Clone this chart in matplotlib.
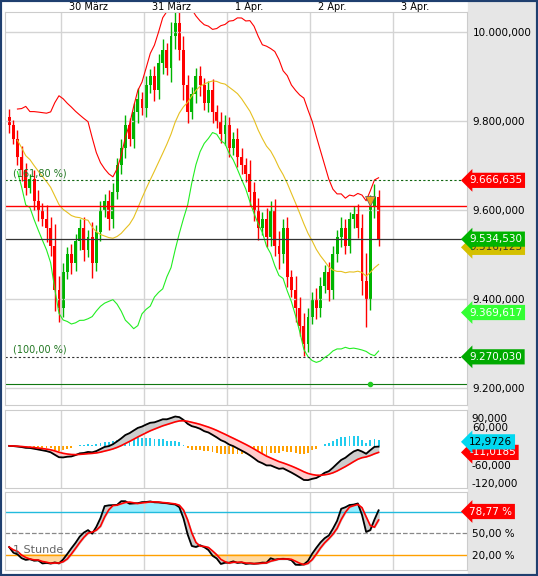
import matplotlib
matplotlib.use("Agg")
import matplotlib.pyplot as plt
import numpy as np
import pandas as pd
from matplotlib.patches import Rectangle

closes = [9790,9760,9720,9690,9650,9670,9620,9600,9580,9560,
          9520,9420,9380,9460,9500,9480,9530,9560,9510,9540,
          9480,9550,9600,9620,9580,9640,9700,9740,9790,9760,
          9820,9850,9830,9880,9900,9870,9930,9960,9920,9990,
          10020,9960,9880,9820,9860,9900,9880,9840,9870,9820,
          9800,9770,9790,9740,9760,9720,9700,9680,9640,9600,
          9560,9580,9540,9600,9520,9500,9560,9450,9420,9380,
          9340,9300,9360,9400,9380,9430,9460,9420,9500,9540,
          9560,9520,9580,9590,9560,9440,9400,9610,9630,9534.53]
wicks = [20,15,25,30,20,15,25,30,20,40,30,60,40,25,20,30,20,25,30,20,
         40,20,25,20,30,25,20,25,30,20,25,30,20,25,20,30,25,30,20,40,
         35,30,40,30,20,25,30,20,25,30,20,25,30,25,20,30,25,20,40,30,
         35,20,30,25,30,40,25,30,20,40,30,35,25,20,30,25,20,30,25,20,
         30,25,20,25,30,40,80,30,35,20]
day_labels = ["30 März","31 März","1 Apr.","2 Apr.","3 Apr."]
price_ticks = [10000,9800,9600,9400,9200]

c = np.array(closes, float)
o = np.r_[c[0]+20, c[:-1]]
w = np.array(wicks, float)
h = np.maximum(o, c) + w*0.8
l = np.minimum(o, c) - w*0.8
n = len(c); x = np.arange(n)
s = pd.Series(c)
mid = s.rolling(20, min_periods=3).mean()
sd = s.rolling(20, min_periods=3).std()
up, lo = mid + 2*sd, mid - 2*sd
ema12 = s.ewm(span=12).mean(); ema26 = s.ewm(span=26).mean()
macd = ema12 - ema26; sig = macd.ewm(span=9).mean(); hist = macd - sig
hh = pd.Series(h).rolling(14, min_periods=1).max(); ll = pd.Series(l).rolling(14, min_periods=1).min()
k = (100*(s-ll)/(hh-ll)).rolling(3, min_periods=1).mean(); d = k.rolling(3, min_periods=1).mean()

def de(v, dec=3):
    t = f"{v:,.{dec}f}"
    return t.replace(",", "X").replace(".", ",").replace("X", ".")

W, H = 538, 576
fig = plt.figure(figsize=(W/100, H/100), dpi=100)
fig.patch.set_facecolor("white")
fig.add_artist(Rectangle((468/W, 0), 70/W, 1, transform=fig.transFigure, color="#e6e6e6", zorder=0))
fig.add_artist(Rectangle((0, 0), 1, 1, transform=fig.transFigure, fill=False, ec="#1f3f6f", lw=3, zorder=10))

def mkax(top, bot):
    ax = fig.add_axes([5/W, 1-bot/H, 462/W, (bot-top)/H])
    ax.set_xlim(-1, 110.3)
    for sp in ax.spines.values(): sp.set_color("#cccccc")
    ax.set_xticks([12.5+20*i for i in range(5)]); ax.set_xticklabels([])
    ax.tick_params(length=0, labelleft=False)
    ax.grid(True, axis="x", color="#d4d4d4", lw=1)
    return ax

def tag(ax, y, txt, fc, tc="white"):
    ax.text(1.005, y, txt, transform=ax.get_yaxis_transform(), fontsize=7.5, color=tc, va="center", ha="left",
            bbox=dict(boxstyle="larrow,pad=0.25", fc=fc, ec="none"), clip_on=False, zorder=20)

# main
ax = mkax(12, 405)
top = 10000 + 20/445*1000; bot = 10000 - 373/445*1000
ax.set_ylim(bot, top)
ax.set_yticks(price_ticks); ax.grid(True, axis="y", color="#d4d4d4", lw=1)
ax.tick_params(axis="y", labelright=True, labelsize=7.5, pad=4)
ax.set_yticklabels([de(v) for v in price_ticks])
for i in range(n):
    col = "#00b400" if c[i] >= o[i] else "#ff0000"
    ax.vlines(x[i], l[i], h[i], color=col, lw=1)
    ax.add_patch(Rectangle((x[i]-0.35, min(o[i], c[i])), 0.7, max(abs(c[i]-o[i]), 2), color=col, lw=0))
ax.plot(x, up, color="#ff0000", lw=0.8); ax.plot(x, lo, color="#22ee22", lw=0.8); ax.plot(x, mid, color="#e6c020", lw=0.8)
ax.axhline(9610, color="red", lw=1); ax.axhline(9534.53, color="#333333", lw=0.9)
ax.axhline(9666.635, color="#116611", lw=0.8, ls=(0, (2, 2)))
ax.axhline(9270.03, color="#333333", lw=0.8, ls=(0, (2, 2)))
ax.axhline(9210, color="#117711", lw=0.8)
ax.plot([87], [9210], "o", color="#22cc22", ms=3)
ax.plot([87], [9620], "v", color="#f5a020", ms=7, mec="#555", mew=0.5)
ax.text(1, 9675, "(161,80 %)", fontsize=7, color="#227722")
ax.text(1, 9280, "(100,00 %)", fontsize=7, color="#227722")
tag(ax, 9666.635, "9.666,635", "#ff0000")
tag(ax, 9516.1, "9.516,123", "#d4c000", "#333")
tag(ax, 9534.53, "9.534,530", "#00b400")
tag(ax, 9369.6, "9.369,617", "#33ff33")
tag(ax, 9270.03, "9.270,030", "#00aa00")
for i, t in enumerate(day_labels):
    ax.text(12.5+20*i+2, top, t, fontsize=7, va="bottom", ha="left", clip_on=False)

# MACD
a2 = mkax(410, 488)
a2.set_ylim(-135, 115)
a2.bar(x, hist, width=0.45, color=np.where(hist >= 0, "#22ccee", "#ffa000"))
a2.plot(x, macd, color="black", lw=1.3); a2.plot(x, sig, color="red", lw=1.2)
a2.fill_between(x, macd, sig, where=macd >= sig, color="#cccccc", interpolate=True)
a2.fill_between(x, macd, sig, where=macd < sig, color="#ffcccc", interpolate=True)
a2.set_yticks([90, 60, -60, -120]); a2.tick_params(axis="y", labelright=True, labelsize=7.5)
a2.set_yticklabels(["90,000", "60,000", "-60,000", "-120,000"])
tag(a2, sig.iloc[-1], "-11,0185", "#ff0000")
tag(a2, 12.97, "12,9726", "#00d8f0", "black")

# Stoch
a3 = mkax(492, 570)
a3.set_ylim(-1, 107)
a3.axhline(80, color="#22bbdd", lw=1); a3.axhline(50, color="#888", lw=0.9, ls="--"); a3.axhline(20, color="#ffa000", lw=1)
a3.fill_between(x, k, 80, where=k > 80, color="#99eeff", interpolate=True)
a3.fill_between(x, k, 20, where=k < 20, color="#ffd9a0", interpolate=True)
a3.fill_between(x, k, d, color="#cccccc")
a3.plot(x, k, color="black", lw=1.3); a3.plot(x, d, color="red", lw=1.2)
a3.set_yticks([50, 20]); a3.tick_params(axis="y", labelright=True, labelsize=7.5)
a3.set_yticklabels(["50,00 %", "20,00 %"])
a3.text(1, 22, "1 Stunde", fontsize=8, color="#666")
tag(a3, 80, "78,77 %", "#ff0000")
fig.savefig("out.png", dpi=100)
